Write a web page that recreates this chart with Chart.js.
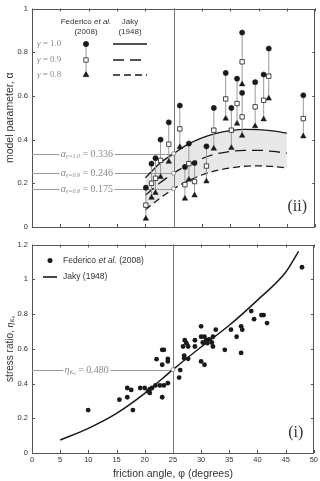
<!DOCTYPE html>
<html>
<head>
<meta charset="utf-8">
<script src="https://cdn.jsdelivr.net/npm/chart.js@4.4.0/dist/chart.umd.min.js"></script>
<style>
  body { margin: 0; background: #fff; }
  #wrap { position: relative; width: 320px; height: 481px; }
  #top { position: absolute; left: 0; top: 0; }
  #bottom { position: absolute; left: 0; top: 236px; }
</style>
</head>
<body>
<div id="wrap">
  <canvas id="top" width="320" height="236"></canvas>
  <canvas id="bottom" width="320" height="245"></canvas>
</div>
<script>
// axis ticks
const xTicks = [0, 5, 10, 15, 20, 25, 30, 35, 40, 45, 50];
const alphaTicks = [0, 0.2, 0.4, 0.6, 0.8, 1];
const etaTicks = [0, 0.2, 0.4, 0.6, 0.8, 1, 1.2];

// panel (ii): Federico et al. (2008), model parameter per test
const phiFed = [20.1, 21.1, 21.8, 22.7, 24.15, 26.1, 27.0, 27.7, 28.7, 30.8,
                32.1, 34.2, 35.2, 36.2, 37.1, 37.1, 39.4, 40.9, 41.8, 47.9];
const alphaG10 = [0.18, 0.29, 0.315, 0.40, 0.479, 0.556, 0.275, 0.382, 0.293, 0.369,
                  0.545, 0.705, 0.545, 0.679, 0.89, 0.614, 0.663, 0.698, 0.817, 0.603];
const alphaG09 = [0.10, 0.20, 0.223, 0.305, 0.379, 0.449, 0.194, 0.290, 0.208, 0.279,
                  0.443, 0.586, 0.443, 0.565, 0.756, 0.504, 0.550, 0.580, 0.690, 0.496];
const alphaG08 = [0.038, 0.134, 0.156, 0.229, 0.299, 0.366, 0.130, 0.217, 0.145, 0.209,
                  0.359, 0.496, 0.362, 0.473, 0.653, 0.418, 0.461, 0.493, 0.588, 0.415];

// panel (ii): Jaky (1948) curves
const phiJaky = [20, 22.5, 25, 27.5, 30, 32.5, 35, 37.5, 40, 42.5, 45];
const jakyG10 = [0.225, 0.29, 0.336, 0.378, 0.408, 0.429, 0.441, 0.447, 0.446, 0.440, 0.430];
const jakyG09 = [0.145, 0.20, 0.246, 0.284, 0.313, 0.334, 0.346, 0.351, 0.351, 0.346, 0.338];
const jakyG08 = [0.078, 0.13, 0.175, 0.21, 0.238, 0.258, 0.270, 0.278, 0.280, 0.277, 0.270];

const phiRef = 25;
const alphaRef = [0.336, 0.246, 0.175];
const gammaLabels = ['1.0', '0.9', '0.8'];

// panel (i): Federico et al. (2008) stress ratio
const phiData = [9.96, 15.5, 16.9, 16.9, 17.6, 17.9, 19.2, 20.0, 20.9, 20.9,
                 21.3, 21.9, 22.1, 22.7, 23.1, 23.1, 23.4, 23.1, 23.4, 24.1,
                 24.1, 24.1, 26.1, 26.3, 26.8, 27.0, 27.0, 27.1, 27.4, 27.7,
                 27.7, 28.9, 28.9, 30.0, 30.0, 30.6, 30.0, 30.3, 30.6, 30.9,
                 31.1, 31.4, 31.9, 32.1, 32.1, 32.6, 34.2, 35.3, 36.3, 37.1,
                 37.3, 37.1, 38.9, 39.4, 40.7, 41.1, 41.7, 47.9, 20.6];
const etaData = [0.247, 0.307, 0.374, 0.321, 0.363, 0.247, 0.374, 0.374, 0.368, 0.346,
                 0.374, 0.389, 0.540, 0.389, 0.508, 0.594, 0.594, 0.321, 0.389, 0.402,
                 0.542, 0.527, 0.434, 0.477, 0.613, 0.561, 0.546, 0.649, 0.632, 0.542,
                 0.613, 0.613, 0.649, 0.729, 0.527, 0.508, 0.669, 0.636, 0.669, 0.649,
                 0.632, 0.654, 0.636, 0.613, 0.669, 0.710, 0.594, 0.710, 0.669, 0.729,
                 0.710, 0.576, 0.817, 0.770, 0.794, 0.794, 0.748, 1.069, 0.356];

// panel (i): Jaky (1948)
const phiJakyEta = [5, 10, 15, 20, 25, 30, 35, 40, 45, 47.3];
const etaJaky = [0.075, 0.142, 0.228, 0.343, 0.480, 0.610, 0.735, 0.880, 1.040, 1.160];
const etaRef = 0.480;

Chart.defaults.font.family = "'Liberation Sans', Arial, sans-serif";
Chart.defaults.color = '#333';
const SERIF = "'Liberation Serif', 'DejaVu Serif', serif";
const INK = '#1a1a1a';

const pts = (xs, ys) => xs.map((x, i) => ({ x: x, y: ys[i] }));

// vertical stems from gamma=0.8 to gamma=1.0, broken by null points
const stems = [];
phiFed.forEach((x, i) => {
  stems.push({ x: x, y: alphaG08[i] }, { x: x, y: alphaG10[i] }, { x: x, y: null });
});

// draw runs of text with different fonts (for subscripts), left to right
function textRuns(ctx, runs, x, y) {
  let cx = x;
  runs.forEach(r => {
    ctx.font = r.f;
    ctx.fillText(r.t, cx, y + (r.dy || 0));
    cx += ctx.measureText(r.t).width;
  });
  return cx - x;
}
function runsWidth(ctx, runs) {
  let w = 0;
  runs.forEach(r => { ctx.font = r.f; w += ctx.measureText(r.t).width; });
  return w;
}

function drawFrame(chart, yTicks) {
  const { ctx, chartArea: a, scales } = chart;
  ctx.save();
  ctx.strokeStyle = '#555';
  ctx.lineWidth = 1;
  ctx.beginPath();
  xTicks.forEach(v => {
    const px = Math.round(scales.x.getPixelForValue(v)) + 0.5;
    ctx.moveTo(px, a.bottom); ctx.lineTo(px, a.bottom - 3);
    ctx.moveTo(px, a.top); ctx.lineTo(px, a.top + 3);
  });
  yTicks.forEach(v => {
    const py = Math.round(scales.y.getPixelForValue(v)) + 0.5;
    ctx.moveTo(a.left, py); ctx.lineTo(a.left + 3, py);
    ctx.moveTo(a.right, py); ctx.lineTo(a.right - 3, py);
  });
  ctx.stroke();
  ctx.strokeRect(Math.round(a.left) + 0.5, Math.round(a.top) + 0.5,
                 Math.round(a.width) - 1, Math.round(a.height) - 1);
  // phi = 25 reference line
  ctx.strokeStyle = '#777';
  const vx = Math.round(scales.x.getPixelForValue(phiRef)) + 0.5;
  ctx.beginPath();
  ctx.moveTo(vx, a.top); ctx.lineTo(vx, a.bottom);
  ctx.stroke();
  ctx.restore();
}

// horizontal reference line with a label sitting in a gap
function refLine(chart, yVal, runs) {
  const { ctx, chartArea: a, scales } = chart;
  const py = Math.round(scales.y.getPixelForValue(yVal)) + 0.5;
  const x1 = scales.x.getPixelForValue(phiRef);
  const cx = scales.x.getPixelForValue(9.7);
  ctx.save();
  const w = runsWidth(ctx, runs);
  ctx.strokeStyle = '#999';
  ctx.lineWidth = 1;
  ctx.beginPath();
  ctx.moveTo(a.left, py); ctx.lineTo(cx - w / 2 - 1.5, py);
  ctx.moveTo(cx + w / 2 + 1.5, py); ctx.lineTo(x1, py);
  ctx.stroke();
  ctx.fillStyle = '#8a8a8a';
  ctx.textBaseline = 'middle';
  textRuns(ctx, runs, cx - w / 2, py);
  ctx.restore();
}

const topDecor = {
  id: 'topDecor',
  beforeDatasetsDraw(chart) {
    drawFrame(chart, alphaTicks);
    alphaRef.forEach((v, i) => {
      refLine(chart, v, [
        { t: 'α', f: 'italic 10px ' + SERIF },
        { t: 'γ=' + gammaLabels[i], f: 'italic 6px ' + SERIF, dy: 2 },
        { t: ' = ' + v.toFixed(3), f: '10px ' + SERIF }
      ]);
    });
  },
  afterDraw(chart) {
    const { ctx, chartArea: a } = chart;
    const L = a.left, T = a.top;
    ctx.save();
    ctx.fillStyle = '#333';
    ctx.textBaseline = 'middle';
    // column headers
    const head = [{ t: 'Federico ', f: '8px ' + Chart.defaults.font.family },
                  { t: 'et al.', f: 'italic 8px ' + Chart.defaults.font.family }];
    textRuns(ctx, head, L + 54 - runsWidth(ctx, head) / 2, T + 13.5);
    ctx.font = '8px ' + Chart.defaults.font.family;
    ctx.textAlign = 'center';
    ctx.fillText('(2008)', L + 54, T + 23.5);
    ctx.fillText('Jaky', L + 98, T + 13.5);
    ctx.fillText('(1948)', L + 98, T + 23.5);
    ctx.textAlign = 'left';
    // rows
    const rowY = [T + 35.5, T + 51.5, T + 66.5];
    const mx = L + 54;
    ctx.strokeStyle = '#999';
    ctx.lineWidth = 1;
    ctx.beginPath(); ctx.moveTo(mx, rowY[0]); ctx.lineTo(mx, rowY[2]); ctx.stroke();
    const styles = [
      { pointStyle: 'circle', radius: 2.6, fill: INK },
      { pointStyle: 'rect', radius: 3.1, fill: '#fff' },
      { pointStyle: 'triangle', radius: 3.2, fill: INK }
    ];
    const dashes = [[], [11, 6], [7, 4]];
    rowY.forEach((y, i) => {
      ctx.fillStyle = '#8a8a8a';
      textRuns(ctx, [{ t: 'γ', f: 'italic 9px ' + SERIF },
                     { t: ' = ' + gammaLabels[i], f: '9px ' + SERIF }], L + 5, y);
      ctx.fillStyle = styles[i].fill;
      ctx.strokeStyle = INK;
      ctx.lineWidth = 0.8;
      Chart.helpers.drawPoint(ctx, { pointStyle: styles[i].pointStyle, radius: styles[i].radius,
                                      rotation: 0, borderWidth: 0.8 }, mx, y);
      ctx.setLineDash(dashes[i]);
      ctx.lineWidth = 1.3;
      ctx.beginPath(); ctx.moveTo(L + 81, y); ctx.lineTo(L + 115, y); ctx.stroke();
      ctx.setLineDash([]);
    });
    ctx.fillStyle = '#333';
    ctx.font = '16px ' + SERIF;
    ctx.textAlign = 'center';
    ctx.fillText('(ii)', a.right - 18, a.bottom - 20);
    ctx.restore();
  }
};

const bottomDecor = {
  id: 'bottomDecor',
  beforeDatasetsDraw(chart) {
    drawFrame(chart, etaTicks);
    refLine(chart, etaRef, [
      { t: 'η', f: 'italic 10px ' + SERIF },
      { t: 'K', f: 'italic 6px ' + SERIF, dy: 2 },
      { t: '0', f: '4.5px ' + SERIF, dy: 3.5 },
      { t: ' = ' + etaRef.toFixed(3), f: '10px ' + SERIF }
    ]);
  },
  afterDraw(chart) {
    const { ctx, chartArea: a } = chart;
    const fam = Chart.defaults.font.family;
    ctx.save();
    ctx.textBaseline = 'middle';
    // legend
    ctx.fillStyle = INK;
    ctx.beginPath(); ctx.arc(a.left + 18, a.top + 16, 2.5, 0, Math.PI * 2); ctx.fill();
    ctx.strokeStyle = INK; ctx.lineWidth = 1.6;
    ctx.beginPath(); ctx.moveTo(a.left + 11, a.top + 32.5); ctx.lineTo(a.left + 25, a.top + 32.5); ctx.stroke();
    ctx.fillStyle = '#333';
    textRuns(ctx, [{ t: 'Federico ', f: '8.5px ' + fam }, { t: 'et al.', f: 'italic 8.5px ' + fam },
                   { t: ' (2008)', f: '8.5px ' + fam }], a.left + 31, a.top + 16);
    textRuns(ctx, [{ t: 'Jaky (1948)', f: '8.5px ' + fam }], a.left + 31, a.top + 32.5);
    // panel tag
    ctx.font = '16px ' + SERIF;
    ctx.textAlign = 'center';
    ctx.fillText('(i)', a.right - 18, a.bottom - 20);
    // y title with subscript
    const runs = [{ t: 'stress ratio, ', f: '10px ' + fam },
                  { t: 'η', f: 'italic 10px ' + SERIF },
                  { t: 'K', f: 'italic 6.5px ' + SERIF, dy: 2 },
                  { t: '0', f: '5px ' + SERIF, dy: 3.5 }];
    ctx.textAlign = 'left';
    ctx.translate(10, (a.top + a.bottom) / 2);
    ctx.rotate(-Math.PI / 2);
    textRuns(ctx, runs, -runsWidth(ctx, runs) / 2, 0);
    ctx.restore();
  }
};

function yScale(ticks, max, title) {
  return {
    type: 'linear', min: 0, max: max,
    afterFit: s => { s.width = 32; },
    afterBuildTicks: s => { s.ticks = ticks.map(v => ({ value: v })); },
    grid: { display: false, drawTicks: false },
    border: { display: false },
    ticks: { font: { size: 7.5 }, padding: 4, color: '#333', callback: v => String(v) },
    title: title
  };
}

const common = {
  responsive: false,
  animation: false,
  events: [],
  plugins: { legend: { display: false }, tooltip: { enabled: false },
             filler: { drawTime: 'beforeDatasetsDraw' } }
};

new Chart(document.getElementById('top'), {
  type: 'line',
  data: {
    datasets: [
      { data: pts(phiJaky, jakyG10), borderColor: INK, borderWidth: 1.3, pointRadius: 0,
        cubicInterpolationMode: 'monotone', fill: '+2', backgroundColor: '#e8e8e8', order: 10 },
      { data: pts(phiJaky, jakyG09), borderColor: INK, borderWidth: 1.3, pointRadius: 0,
        cubicInterpolationMode: 'monotone', borderDash: [11, 6], fill: false, order: 10 },
      { data: pts(phiJaky, jakyG08), borderColor: INK, borderWidth: 1.3, pointRadius: 0,
        cubicInterpolationMode: 'monotone', borderDash: [7, 4], fill: false, order: 10 },
      { data: stems, borderColor: '#9a9a9a', borderWidth: 1, pointRadius: 0, spanGaps: false,
        fill: false, order: 5 },
      { data: pts(phiFed, alphaG08), showLine: false, pointStyle: 'triangle', pointRadius: 3.2,
        backgroundColor: INK, borderColor: INK, borderWidth: 0.5, order: 2 },
      { data: pts(phiFed, alphaG10), showLine: false, pointStyle: 'circle', pointRadius: 2.6,
        backgroundColor: INK, borderColor: INK, borderWidth: 0.5, order: 2 },
      { data: pts(phiFed, alphaG09), showLine: false, pointStyle: 'rect', pointRadius: 3.1,
        backgroundColor: '#fff', borderColor: INK, borderWidth: 0.8, order: 1 },
      { data: alphaRef.map(v => ({ x: phiRef, y: v })), showLine: false, pointStyle: 'circle',
        pointRadius: 2, backgroundColor: '#fff', borderColor: '#777', borderWidth: 0.8, order: 0 }
    ]
  },
  options: Object.assign({}, common, {
    layout: { padding: { top: 8, right: 4, bottom: 9, left: 0 } },
    scales: {
      x: { type: 'linear', min: 0, max: 50, display: false },
      y: yScale(alphaTicks, 1, { display: true, text: 'model parameter, α',
                                 font: { size: 10.5 }, color: '#333', padding: { top: 4, bottom: 0 } })
    }
  }),
  plugins: [topDecor]
});

new Chart(document.getElementById('bottom'), {
  type: 'line',
  data: {
    datasets: [
      { data: pts(phiJakyEta, etaJaky), borderColor: INK, borderWidth: 1.5, pointRadius: 0,
        cubicInterpolationMode: 'monotone', fill: false, order: 10 },
      { data: pts(phiData, etaData), showLine: false, pointStyle: 'circle', pointRadius: 2.4,
        backgroundColor: INK, borderColor: INK, borderWidth: 0, order: 1 },
      { data: [{ x: phiRef, y: etaRef }], showLine: false, pointStyle: 'circle', pointRadius: 2,
        backgroundColor: '#fff', borderColor: '#777', borderWidth: 0.8, order: 0 }
    ]
  },
  options: Object.assign({}, common, {
    layout: { padding: { top: 4, right: 4, bottom: 0, left: 0 } },
    scales: {
      x: {
        type: 'linear', min: 0, max: 50,
        afterFit: s => { s.height = 28; },
        afterBuildTicks: s => { s.ticks = xTicks.map(v => ({ value: v })); },
        grid: { display: false, drawTicks: false },
        border: { display: false },
        ticks: { font: { size: 7.5 }, padding: 2, color: '#333', maxRotation: 0, callback: v => String(v) },
        title: { display: true, text: 'friction angle, φ (degrees)', font: { size: 10.5 },
                 color: '#333', padding: { top: 0, bottom: 1 } }
      },
      y: yScale(etaTicks, 1.2, { display: false })
    }
  }),
  plugins: [bottomDecor]
});
</script>
</body>
</html>
